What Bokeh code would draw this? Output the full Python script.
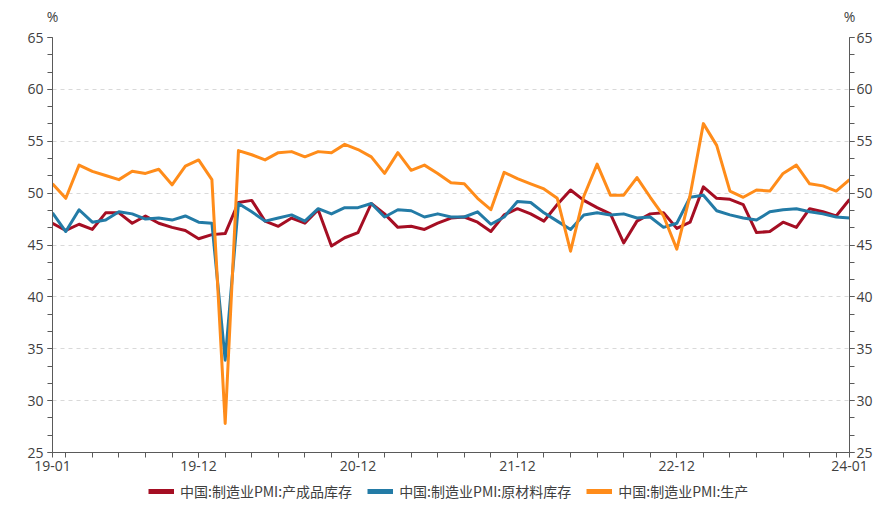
from bokeh.plotting import figure
from bokeh.layouts import column
from bokeh.models import Range1d, LinearAxis, FixedTicker, Legend, LegendItem
from bokeh.embed import file_html
from bokeh.resources import INLINE

# ---- data -------------------------------------------------------------
months = [f"{y % 100:02d}-{m:02d}" for y in range(2019, 2025) for m in range(1, 13)][:61]

tick_labels = ["19-01", "19-12", "20-12", "21-12", "22-12", "24-01"]

series_names = ["中国:制造业PMI:产成品库存", "中国:制造业PMI:原材料库存", "中国:制造业PMI:生产"]

finished_goods = [
    47.1, 46.4, 47.0, 46.5, 48.1, 48.1, 47.1, 47.8, 47.1, 46.7, 46.4, 45.6,
    46.0, 46.1, 49.1, 49.3, 47.3, 46.8, 47.6, 47.1, 48.4, 44.9, 45.7, 46.2,
    49.0, 48.0, 46.7, 46.8, 46.5, 47.1, 47.6, 47.7, 47.2, 46.3, 47.9, 48.5,
    48.0, 47.3, 48.9, 50.3, 49.3, 48.6, 48.0, 45.2, 47.3, 48.0, 48.1, 46.6,
    47.2, 50.6, 49.5, 49.4, 48.9, 46.2, 46.3, 47.2, 46.7, 48.5, 48.2, 47.8,
    49.4,
]

raw_materials = [
    48.1, 46.3, 48.4, 47.2, 47.4, 48.2, 48.0, 47.5, 47.6, 47.4, 47.8, 47.2,
    47.1, 33.9, 49.0, 48.2, 47.3, 47.6, 47.9, 47.3, 48.5, 48.0, 48.6, 48.6,
    49.0, 47.7, 48.4, 48.3, 47.7, 48.0, 47.7, 47.7, 48.2, 47.0, 47.7, 49.2,
    49.1, 48.1, 47.3, 46.5, 47.9, 48.1, 47.9, 48.0, 47.6, 47.7, 46.7, 47.1,
    49.6, 49.8, 48.3, 47.9, 47.6, 47.4, 48.2, 48.4, 48.5, 48.2, 48.0, 47.7,
    47.6,
]

production = [
    50.9, 49.5, 52.7, 52.1, 51.7, 51.3, 52.1, 51.9, 52.3, 50.8, 52.6, 53.2,
    51.3, 27.8, 54.1, 53.7, 53.2, 53.9, 54.0, 53.5, 54.0, 53.9, 54.7, 54.2,
    53.5, 51.9, 53.9, 52.2, 52.7, 51.9, 51.0, 50.9, 49.5, 48.4, 52.0, 51.4,
    50.9, 50.4, 49.5, 44.4, 49.7, 52.8, 49.8, 49.8, 51.5, 49.6, 47.8, 44.6,
    49.8, 56.7, 54.6, 50.2, 49.6, 50.3, 50.2, 51.9, 52.7, 50.9, 50.7, 50.2,
    51.3,
]

y_ticks = [25, 30, 35, 40, 45, 50, 55, 60, 65]
unit_label = "%"

colors = ["#A50E23", "#237BA6", "#FF8C1A"]

# ---- layout constants ------------------------------------------------
W = 875
LEFT, RIGHT = 52, 25          # frame spans x 52..850
TXT = "#404040"
AX = "#5a5a5a"
FONT = "Open Sans"

# ---- main chart ------------------------------------------------------
x = list(range(len(months)))
major_idx = [months.index(t) for t in tick_labels]

p = figure(
    width=W, height=480,
    x_range=Range1d(0, len(months) - 1), y_range=Range1d(y_ticks[0], y_ticks[-1]),
    output_backend="svg", toolbar_location=None,
    min_border_left=LEFT, min_border_right=RIGHT, min_border_top=37, min_border_bottom=28,
)
p.outline_line_color = None
p.xgrid.visible = False

minor_y = [y_ticks[0] + k * 5 / 3 for k in range(int((y_ticks[-1] - y_ticks[0]) * 3 / 5) + 1)]

def style_axis(ax):
    ax.axis_line_color = AX
    ax.major_tick_line_color = AX
    ax.minor_tick_line_color = AX
    ax.major_tick_out = 5
    ax.major_tick_in = 0
    ax.minor_tick_out = 5
    ax.minor_tick_in = 0
    ax.major_label_text_font = FONT
    ax.major_label_text_font_size = "14px"
    ax.major_label_text_color = TXT

p.xaxis.ticker = FixedTicker(ticks=major_idx, minor_ticks=list(range(1, len(months), 2)))
p.xaxis.major_label_overrides = {i: months[i] for i in major_idx}
p.xaxis.major_label_standoff = 3
style_axis(p.xaxis[0])

p.yaxis.ticker = FixedTicker(ticks=y_ticks, minor_ticks=minor_y)
p.yaxis.major_label_standoff = 4
style_axis(p.yaxis[0])

ra = LinearAxis(ticker=FixedTicker(ticks=y_ticks, minor_ticks=minor_y))
ra.major_label_standoff = 2
style_axis(ra)
p.add_layout(ra, "right")

# "%" unit labels above both value axes (ends of the time axis)
ends = [major_idx[0], major_idx[-1]]
ua = LinearAxis(ticker=FixedTicker(ticks=ends, minor_ticks=[]),
                major_label_overrides={i: unit_label for i in ends})
ua.axis_line_color = None
ua.major_tick_line_color = None
ua.minor_tick_line_color = None
ua.major_tick_out = 0
ua.major_tick_in = 0
ua.major_label_standoff = 12
ua.major_label_text_font = FONT
ua.major_label_text_font_size = "14px"
ua.major_label_text_color = TXT
p.add_layout(ua, "above")

p.ygrid.ticker = FixedTicker(ticks=y_ticks)
p.ygrid.grid_line_color = "#d9d9d9"
p.ygrid.grid_line_dash = "4 4"

for vals, c in zip([finished_goods, raw_materials, production], colors):
    p.line(x, vals, line_color=c, line_width=3, line_join="round")

# ---- bottom strip with the legend ------------------------------------
BOT_H = 30
bot = figure(width=W, height=BOT_H, x_range=Range1d(0, 1), y_range=Range1d(0, 1),
             output_backend="svg", toolbar_location=None,
             x_axis_location=None, y_axis_location=None,
             min_border_left=LEFT, min_border_right=RIGHT, min_border_top=0, min_border_bottom=0)
bot.outline_line_color = None
bot.grid.visible = False

items = []
for name, vals, c in zip(series_names, [finished_goods, raw_materials, production], colors):
    # series values lie far above this strip's 0..1 range, so only the legend swatch shows
    swatch = bot.line(x, vals, line_color=c, line_width=5)
    items.append(LegendItem(label=name, renderers=[swatch]))

legend = Legend(
    items=items, orientation="horizontal", location=(96, 9),
    glyph_width=26, glyph_height=16, label_standoff=6, spacing=15,
    padding=0, margin=0, border_line_color=None, background_fill_alpha=0,
    label_text_font="Noto Sans CJK SC", label_text_font_size="14px",
    label_text_color=TXT, label_height=16,
)
bot.add_layout(legend, "center")

layout = column(p, bot, spacing=0)
open("out.html", "w").write(file_html(layout, INLINE))
